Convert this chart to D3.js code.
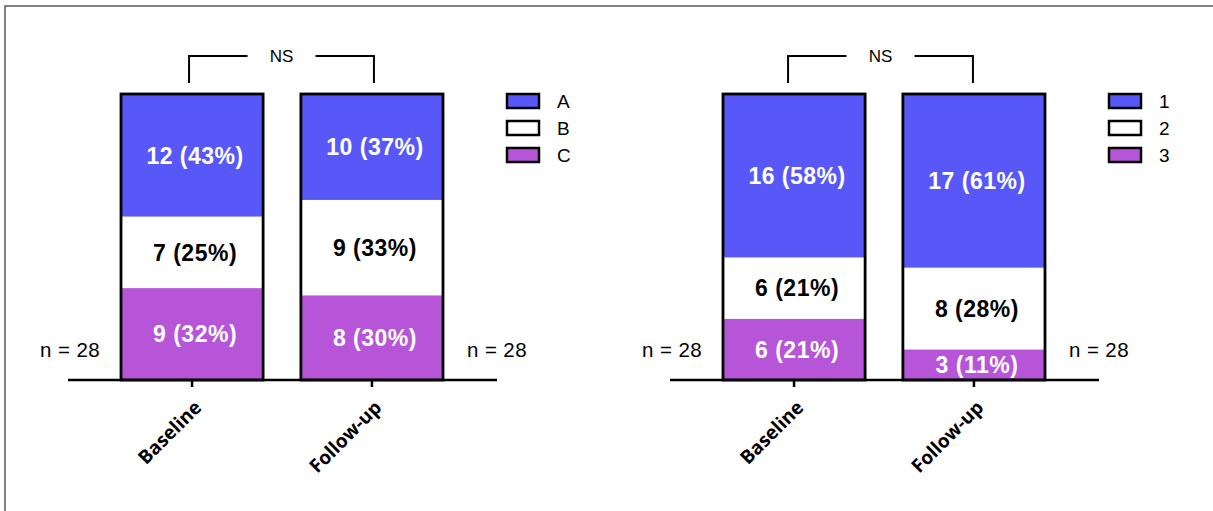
<!DOCTYPE html>
<html>
<head>
<meta charset="utf-8">
<script src="https://cdn.jsdelivr.net/npm/d3@7"></script>
<style>
  body { margin: 0; background: #fff; }
  svg { display: block; }
  .num { font-family: "Liberation Sans", Arial, sans-serif; }
  .cat { font-family: "Open Sans", sans-serif; font-weight: 700; }
</style>
</head>
<body>
<div id="chart"></div>
<script>
// categories shared by both panels
var categories = ["Baseline", "Follow-up"];

// left panel
var leftKeys = ["A", "B", "C"];
var leftA = [12, 10], leftB = [7, 9], leftC = [9, 8];
var leftPctA = [43, 37], leftPctB = [25, 33], leftPctC = [32, 30];
var leftN = ["n = 28", "n = 28"];

// right panel
var rightKeys = ["1", "2", "3"];
var right1 = [16, 17], right2 = [6, 8], right3 = [6, 3];
var rightPct1 = [58, 61], rightPct2 = [21, 28], rightPct3 = [21, 11];
var rightN = ["n = 28", "n = 28"];

var sigLabel = "NS";
var colors = ["#5858f8", "#ffffff", "#b755d8"];
var textColors = ["#fff", "#000", "#fff"];

var W = 1213, H = 511;
var svg = d3.select("#chart").append("svg")
    .attr("width", W)
    .attr("height", H);

// outer frame (partly cut off, like the reference)
svg.append("rect")
    .attr("x", 5).attr("y", 6)
    .attr("width", 1220).attr("height", 520)
    .attr("fill", "none")
    .attr("stroke", "#5a5a5a")
    .attr("stroke-width", 1.5);

function drawPanel(offset, keys, counts, pcts, nLabels, bracketShift) {
    var g = svg.append("g").attr("transform", "translate(" + offset + ",0)");

    var x = d3.scaleBand()
        .domain(categories)
        .range([121, 443])
        .paddingInner(0.21)
        .paddingOuter(0);
    var y = d3.scaleLinear().domain([0, 1]).range([380, 94]);

    // build rows for d3.stack
    var rows = categories.map(function (c, i) {
        var r = {cat: c};
        keys.forEach(function (k, j) { r[k] = counts[j][i]; });
        return r;
    });
    // bottom segment first
    var order = keys.slice().reverse();
    var stack = d3.stack().keys(order).offset(d3.stackOffsetExpand);
    var layers = stack(rows);

    layers.forEach(function (layer) {
        var j = keys.indexOf(layer.key);
        g.selectAll(null)
            .data(layer)
            .enter().append("rect")
            .attr("x", function (d) { return x(d.data.cat); })
            .attr("width", x.bandwidth())
            .attr("y", function (d) { return y(d[1]); })
            .attr("height", function (d) { return y(d[0]) - y(d[1]); })
            .attr("fill", colors[j]);

        g.selectAll(null)
            .data(layer)
            .enter().append("text")
            .attr("class", "num")
            .attr("x", function (d) { return x(d.data.cat) + x.bandwidth() / 2 + 3; })
            .attr("y", function (d) { return (y(d[0]) + y(d[1])) / 2; })
            .attr("dy", "0.36em")
            .attr("text-anchor", "middle")
            .style("font-size", "23px")
            .style("letter-spacing", "0.5px")
            .style("font-weight", "bold")
            .attr("fill", textColors[j])
            .text(function (d, i) { return counts[j][i] + " (" + pcts[j][i] + "%)"; });
    });

    // bar outlines
    g.selectAll(null)
        .data(categories)
        .enter().append("rect")
        .attr("x", function (d) { return x(d); })
        .attr("width", x.bandwidth())
        .attr("y", y(1))
        .attr("height", y(0) - y(1))
        .attr("fill", "none")
        .attr("stroke", "#000")
        .attr("stroke-width", 2.8);

    // x axis
    var axis = g.append("g")
        .attr("transform", "translate(0," + y(0) + ")")
        .call(d3.axisBottom(x).tickSize(7).tickSizeOuter(0));
    axis.select(".domain").remove();
    axis.selectAll(".tick line").attr("stroke", "#000").attr("stroke-width", 2.5);
    axis.append("line")
        .attr("x1", x.range()[0] - 53)
        .attr("x2", x.range()[1] + 54)
        .attr("stroke", "#000")
        .attr("stroke-width", 2.5);
    axis.selectAll(".tick text")
        .attr("class", "cat")
        .attr("x", 0).attr("y", 0)
        .attr("dy", "0.35em")
        .attr("fill", "#000")
        .style("font-size", "19px")
        .style("text-anchor", "end")
        .attr("transform", "translate(6,24) rotate(-45)");

    // significance bracket
    var c1 = x(categories[0]) + x.bandwidth() / 2 - 3 + bracketShift,
        c2 = x(categories[1]) + x.bandwidth() / 2 + 2 + bracketShift,
        mid = (c1 + c2) / 2;
    g.append("path")
        .attr("d", "M" + c1 + ",83V56H" + (mid - 34) + "M" + (mid + 34) + ",56H" + c2 + "V83")
        .attr("fill", "none")
        .attr("stroke", "#000")
        .attr("stroke-width", 2);
    g.append("text")
        .attr("class", "num")
        .attr("x", mid)
        .attr("y", 62)
        .attr("text-anchor", "middle")
        .style("font-size", "17px")
        .text(sigLabel);

    // n labels
    g.append("text")
        .attr("class", "num")
        .attr("x", x(categories[0]) - 21)
        .attr("y", 357)
        .attr("text-anchor", "end")
        .style("font-size", "20.5px")
        .style("letter-spacing", "0.4px")
        .text(nLabels[0]);
    g.append("text")
        .attr("class", "num")
        .attr("x", x(categories[1]) + x.bandwidth() + 24)
        .attr("y", 357)
        .style("font-size", "20.5px")
        .style("letter-spacing", "0.4px")
        .text(nLabels[1]);

    // legend
    var leg = g.selectAll(".leg")
        .data(keys)
        .enter().append("g")
        .attr("transform", function (d, i) { return "translate(507," + (94 + i * 27) + ")"; });
    leg.append("rect")
        .attr("width", 32).attr("height", 14)
        .attr("fill", function (d, i) { return colors[i]; })
        .attr("stroke", "#000")
        .attr("stroke-width", 2.5);
    leg.append("text")
        .attr("class", "num")
        .attr("x", 50)
        .attr("y", 7)
        .attr("dy", "0.36em")
        .style("font-size", "19px")
        .text(function (d) { return d; });
}

drawPanel(0, leftKeys, [leftA, leftB, leftC], [leftPctA, leftPctB, leftPctC], leftN, 0);
drawPanel(602, rightKeys, [right1, right2, right3], [rightPct1, rightPct2, rightPct3], rightN, -3);
</script>
</body>
</html>
